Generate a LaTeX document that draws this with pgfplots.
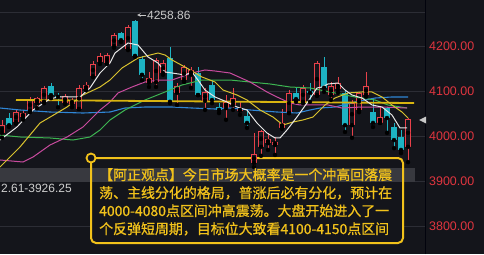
\documentclass[border=0pt]{standalone}
\usepackage{pgfplots}
\usepackage{pgfplotstable}
\pgfplotsset{compat=1.18}
\usepackage{fontspec}
\setmainfont{Liberation Sans}
\newfontfamily\cjk[FakeBold=0.8]{Noto Sans CJK SC}
\definecolor{bg}{HTML}{14151B}
\definecolor{cgrid}{HTML}{2C2D35}
\definecolor{cred}{HTML}{E8414A}
\definecolor{ccyan}{HTML}{1DB3C3}
\definecolor{mawhite}{HTML}{E6E6E6}
\definecolor{mayellow}{HTML}{D9C22E}
\definecolor{mamag}{HTML}{C94B9E}
\definecolor{magreen}{HTML}{3DB552}
\definecolor{mablue}{HTML}{2F86D6}
\definecolor{cgold}{HTML}{D8B410}
\definecolor{ctext}{HTML}{F2C21B}
\definecolor{cband}{HTML}{38393F}
\definecolor{ctick}{HTML}{E0353F}
\definecolor{clabel}{HTML}{C8C8C8}

\pgfplotstableread{
i o h l c
0 4007 4036 3996 4024
2 4031 4058 4027 4053
3 4042 4058 4036 4051
4 4056 4087 4053 4082
5 4073 4087 4062 4084
6 4076 4111 4073 4107
9 4073 4093 4071 4089
10 4071 4084 4064 4080
11 4060 4113 4060 4107
12 4104 4120 4102 4113
13 4133 4167 4131 4160
14 4164 4184 4160 4178
15 4162 4184 4160 4180
16 4200 4229 4196 4224
18 4193 4247 4191 4242
21 4118 4142 4109 4129
22 4120 4173 4109 4169
23 4140 4169 4136 4162
25 4096 4118 4069 4111
26 4124 4158 4120 4153
27 4136 4153 4107 4147
29 4078 4107 4058 4098
32 4062 4091 4036 4076
33 4069 4107 4058 4084
34 4056 4076 4047 4060
36 3940 4007 3931 3960
37 3976 4013 3956 4011
38 3984 4007 3969 3993
39 3980 3998 3958 3987
40 4018 4060 4016 4029
41 4051 4102 4051 4096
43 4076 4113 4073 4107
45 4091 4167 4089 4162
47 4091 4120 4080 4111
48 4104 4131 4096 4118
50 4024 4080 3996 4073
51 4058 4098 4053 4096
52 4091 4142 4087 4111
54 4029 4064 4029 4042
58 3976 4040 3942 4038
}\redtab

\pgfplotstableread{
i o h l c
1 4040 4051 4020 4024
7 4111 4118 4084 4091
8 4089 4096 4064 4087
17 4229 4231 4209 4213
19 4256 4258.86 4176 4178
20 4171 4178 4124 4136
24 4173 4198 4073 4076
28 4140 4153 4091 4091
30 4113 4124 4073 4080
31 4064 4073 4051 4058
35 4044 4058 4018 4029
42 4096 4107 4076 4082
44 4100 4118 4076 4096
46 4153 4176 4098 4107
49 4096 4102 4009 4024
53 4053 4084 4020 4029
55 4062 4064 4007 4040
56 4020 4029 3973 3991
57 3998 4013 3962 3969
}\cyantab

\begin{document}
\begin{tikzpicture}[x=1bp,y=1bp]
\fill[bg] (0,0) rectangle (484,254);
% grid axis
\begin{axis}[at={(0,0)}, anchor=south west, width=425bp, height=254bp, scale only axis,
  xmin=-0.2857, xmax=60.4286, ymin=3737.78, ymax=4302.22,
  axis line style={draw=none}, xtick=\empty,
  ytick={3800,3900,4000,4100,4200},
  extra y ticks={4275}, extra y tick labels={}, extra y tick style={grid=major},
  ymajorgrids, grid style={color=cgrid, line width=0.8bp},
  major tick length=0pt, yticklabel pos=right,
  yticklabel style={font=\fontsize{12.5}{12.5}\selectfont, text=ctick, anchor=west, inner sep=0pt, xshift=4bp,
    /pgf/number format/.cd, fixed, fixed zerofill, precision=2, 1000 sep={}, assume math mode=true},
]
\addplot[draw=none, forget plot] coordinates {(0,4000)};
\end{axis}
\draw[color=cgrid!120, line width=0.8bp] (425,0) -- (425,254);
% text box fill and band
\fill[bg, rounded corners=5bp] (91,96) rectangle (403,11);
\fill[cband] (0,72) rectangle (415,86);
\draw[ctext, line width=2bp, rounded corners=5bp] (91,96) rectangle (403,11);
\filldraw[draw=ctext, fill=bg, line width=1.8bp] (91,96) circle (4.5);
% data axis
\begin{axis}[at={(0,0)}, anchor=south west, width=425bp, height=254bp, scale only axis,
  xmin=-0.2857, xmax=60.4286, ymin=3737.78, ymax=4302.22, hide axis]
% wicks
\addplot[only marks, mark=none, forget plot, error bars/.cd, y dir=plus, y explicit, error mark=none,
  error bar style={draw=cred, line width=1bp}]
  table[x=i, y=l, y error expr=\thisrow{h}-\thisrow{l}] {\redtab};
\addplot[only marks, mark=none, forget plot, error bars/.cd, y dir=plus, y explicit, error mark=none,
  error bar style={draw=ccyan, line width=1bp}]
  table[x=i, y=l, y error expr=\thisrow{h}-\thisrow{l}] {\cyantab};
% bodies
\addplot[only marks, mark=none, forget plot, error bars/.cd, y dir=plus, y explicit, error mark=none,
  error bar style={draw=ccyan, line width=5.2bp}]
  table[x=i, y=c, y error expr={max(\thisrow{o}-\thisrow{c},2)}] {\cyantab};
\addplot[only marks, mark=none, forget plot, error bars/.cd, y dir=plus, y explicit, error mark=none,
  error bar style={draw=cred, line width=5.2bp}]
  table[x=i, y=o, y error expr={max(\thisrow{c}-\thisrow{o},2)}] {\redtab};
\addplot[only marks, mark=none, forget plot, error bars/.cd, y dir=both, y explicit, error mark=none,
  error bar style={draw=bg, line width=3.2bp}]
  table[x=i, y expr={(\thisrow{o}+\thisrow{c})/2}, y error expr={max((\thisrow{c}-\thisrow{o})/2-2.3,0)}] {\redtab};
% moving averages
\addplot[mablue, line width=1.1bp, line join=round] coordinates {
(-0.29,4062.2)(2.57,4057.8)(6.86,4053.3)(11.57,4051.1)(15.43,4053.3)(17.57,4062.2)(20.43,4064.4)
(24.29,4064.4)(27.14,4062.2)(30.43,4060)(32.57,4062.2)(35.43,4057.8)(39.29,4053.3)(42.14,4051.1)
(44,4057.8)(45.43,4062.2)(47.57,4064.4)(50.43,4075.6)(53.29,4084.4)(55.71,4086.7)(58,4086.7)};
\addplot[magreen, line width=1bp, line join=round] coordinates {
(-0.29,4002.2)(2.57,3997.8)(6.86,3995.6)(10.14,3991.1)(12.57,3997.8)(14,4013.3)(15.43,4035.6)
(17.57,4057.8)(20.43,4080)(23.29,4097.8)(25.71,4113.3)(28.57,4124.4)(32.57,4124.4)(35.43,4120)
(38.29,4115.6)(41.14,4108.9)(44,4106.7)(45.43,4102.2)(47.57,4095.6)(50.43,4086.7)(53.29,4080)
(55.14,4068.9)(57.86,4062.2)};
\addplot[mamag, line width=1bp, line join=round] coordinates {
(-0.29,3946.7)(3,3942.2)(4.43,3953.3)(6.86,3980)(9.29,3997.8)(11.57,4020)(14,4057.8)(15.43,4075.6)
(16.57,4095.6)(18.57,4108.9)(20.43,4120)(22.29,4124.4)(24.29,4124.4)(27.14,4140)(29,4146.7)
(30.43,4144.4)(32.57,4140)(35.43,4120)(37.86,4097.8)(39.29,4086.7)(41.14,4073.3)(42.57,4068.9)
(44.43,4068.9)(46.57,4068.9)(48.57,4062.2)(51.43,4064.4)(54.29,4064.4)(57.86,4062.2)};
\addplot[cgold, line width=1.8bp] coordinates {(2,4080)(58.86,4073.3)};
\addplot[mayellow, line width=1bp, line join=round] coordinates {
(-0.29,3931.1)(2.57,3975.6)(5.43,4028.9)(7.86,4051.1)(9.29,4064.4)(11.57,4091.1)(14,4108.9)
(15.43,4124.4)(17.14,4151.1)(19.43,4173.3)(22.29,4184.4)(23.29,4180)(24.29,4168.9)(26.14,4153.3)
(28.57,4131.1)(30.43,4120)(31.57,4102.2)(33.57,4091.1)(35,4080)(36.86,4057.8)(38.71,4042.2)
(40.14,4024.4)(41.57,4031.1)(43,4035.6)(44.43,4042.2)(45.43,4057.8)(46.14,4068.9)(47.57,4084.4)
(49.43,4095.6)(51.43,4097.8)(52.86,4097.8)(54.29,4086.7)(55.71,4068.9)(57.14,4053.3)(58,4040)};
\addplot[mawhite, line width=1bp, line join=round] coordinates {
(-0.29,3991.1)(2.14,4020)(4.43,4057.8)(6.86,4082.2)(8,4086.7)(11.14,4086.7)(12.57,4106.7)(14,4140)
(15.43,4162.2)(16.14,4184.4)(18,4206.7)(19.43,4202.2)(20.86,4175.6)(22.29,4162.2)(23.29,4142.2)
(24.29,4140)(26.14,4135.6)(27.14,4142.2)(28,4124.4)(29,4102.2)(30.43,4086.7)(32.14,4075.6)
(33.57,4064.4)(35,4057.8)(36.43,4028.9)(37.86,4006.7)(39,3995.6)(39.71,3995.6)(40.71,4013.3)
(42.14,4042.2)(43.57,4073.3)(45,4106.7)(45.71,4108.9)(46.57,4115.6)(48,4117.8)(49,4102.2)
(50,4091.1)(51.43,4084.4)(52.86,4068.9)(54.29,4064.4)(55.71,4046.7)(56.86,4017.8)(57.86,4017.8)};
\end{axis}
% labels
\fill[clabel] (419,134) -- (426,137.5) -- (426,130.5) -- cycle;
\draw[clabel, line width=0.7bp, -stealth] (146,239) -- (137,239);
\node[anchor=west, inner sep=0pt, text=clabel, font=\fontsize{12}{12}\selectfont] at (147,239) {4258.86};
\node[anchor=west, inner sep=0pt, text=clabel!90, font=\fontsize{12}{12}\selectfont] at (1,66) {2.61-3926.25};
\begin{scope}[every node/.style={anchor=base west, inner sep=0pt, text=ctext, font=\cjk\fontsize{14}{14}\selectfont}]
\node at (99,74) {【阿正观点】今日市场大概率是一个冲高回落震};
\node at (99,56) {荡、主线分化的格局，普涨后必有分化，预计在};
\node at (99,38) {4000-4080点区间冲高震荡。大盘开始进入了一};
\node at (99,20) {个反弹短周期，目标位大致看4100-4150点区间};
\end{scope}
\pgfresetboundingbox
\useasboundingbox (0,0) rectangle (484,254);
\end{tikzpicture}
\end{document}
